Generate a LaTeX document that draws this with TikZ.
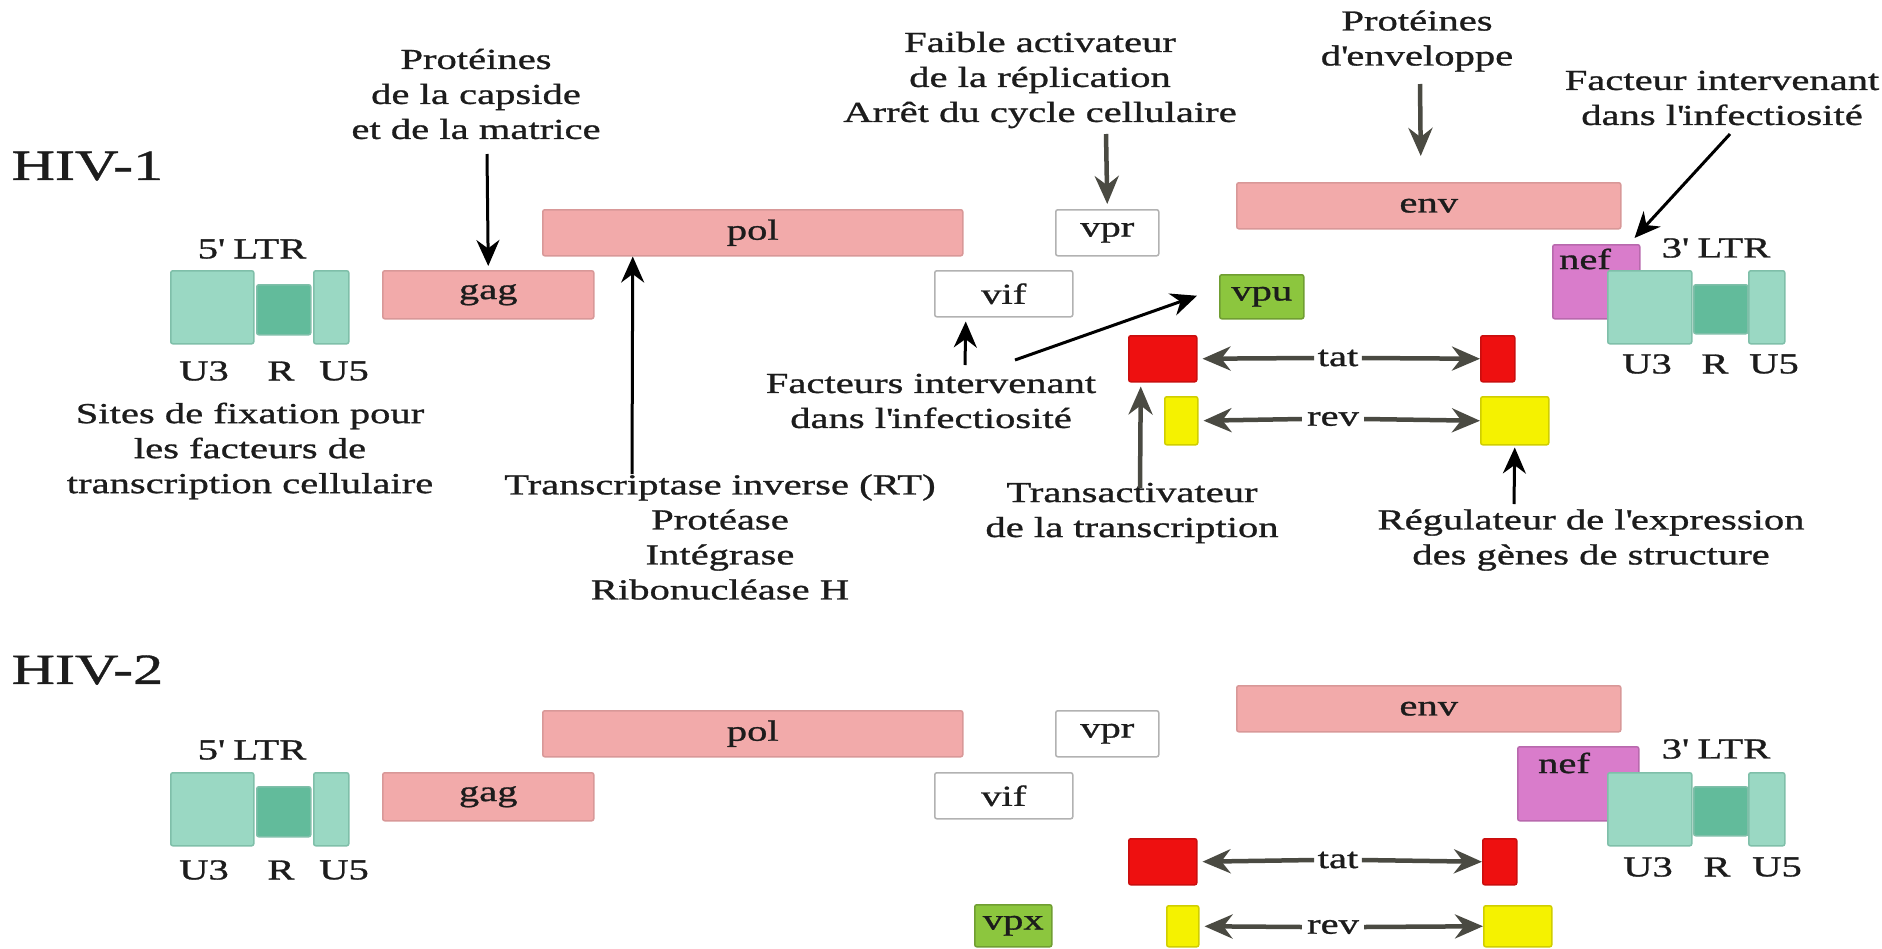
\documentclass[tikz,border=0pt]{standalone}
\usepackage{fontspec}
\setmainfont{Liberation Serif}[FakeStretch=1.4,FakeBold=1]
\usepackage{tikz}
\usetikzlibrary{calc, arrows.meta}
\usetikzlibrary{positioning}
\newcommand{\apo}{\textquotesingle}

\definecolor{rose}{HTML}{F2AAAA}
\definecolor{roseb}{HTML}{D89898}
\definecolor{ltrc}{HTML}{9AD8C3}
\definecolor{ltrd}{HTML}{62BB9B}
\definecolor{ltrb}{HTML}{7FBFA9}
\definecolor{nefc}{HTML}{D97CCB}
\definecolor{vpuc}{HTML}{8CC63E}
\definecolor{tatc}{HTML}{EE1010}
\definecolor{revc}{HTML}{F5F200}
\definecolor{flc}{HTML}{4A4A42}
\definecolor{txt}{HTML}{1C1C1C}

\tikzset{
  sz/.style 2 args={minimum width=#1,minimum height=#2},
  box/.style={draw,line width=1.5pt,rounded corners=2pt,inner sep=0pt,anchor=north west},
  gen/.style={box,fill=rose,draw=roseb},
  ltr/.style={box,fill=ltrc,draw=ltrb},
  ltrr/.style={box,fill=ltrd,draw=ltrb},
  blanc/.style={box,fill=white,draw=gray!60},
  fl/.style={-{Stealth[length=26pt,width=23pt]},line width=3pt,draw=black},
  flg/.style={-{Stealth[length=28pt,width=24pt]},line width=4.5pt,draw=flc},
  titre/.style={font=\fontsize{43}{48}\selectfont,anchor=west}
}

\begin{document}
\begin{tikzpicture}[x=1pt,y=-1pt,
  every node/.style={text=txt,font=\fontsize{29}{35}\selectfont}]
\useasboundingbox (0,0) rectangle (1882,948);

%%% HIV-1
\node[titre] (hiv1) at (8,166) {HIV-1};
\node[ltr,sz={83pt}{73pt}] (u3a) at (170,270) {}; %左LTR
\node[ltrr,sz={54pt}{50pt}] (ra) at (256,284) {};
\node[ltr,sz={35pt}{73pt}] (u5a) at (313,270) {};
\node (ltra) at (252,249) {5\apo\ LTR};
\node (u3la) at (204,371) {U3};
\node (rla) at (281,371) {R};
\node (u5la) at (344,371) {U5};
\node[gen,sz={211pt}{48pt}] (gag1) at (382,270) {gag};
\node[gen,sz={420pt}{46pt}] (pol1) at (542,209) {pol};
\node[blanc,sz={103pt}{46pt}] (vpr1) at (1055,209) {vpr};
\node[blanc,sz={138pt}{46pt}] (vif1) at (934,270) {vif};
\node[gen,sz={384pt}{46pt}] (env1) at (1236,182) {env};
\node[box,fill=vpuc,draw=vpuc!80!black,sz={84pt}{44pt}] (vpu1) at (1219,274) {vpu};
\node[box,fill=tatc,draw=tatc!85!black,sz={68pt}{46pt}] (tatl1) at (1128,335) {}; %tat
\node[box,fill=tatc,draw=tatc!85!black,sz={34pt}{46pt}] (tatr1) at (1480,335) {};
\node[box,fill=revc,draw=revc!85!black,sz={33pt}{48pt}] (revl1) at (1164,396) {}; %rev
\node[box,fill=revc,draw=revc!85!black,sz={68pt}{48pt}] (revr1) at (1480,396) {};
\node[box,fill=nefc,draw=nefc!85!black,sz={87pt}{74pt}] (nef1) at (1552,244) {};
\node (nefl1) at (1585,259) {nef};
\node[ltr,sz={84pt}{73pt}] (u3b) at (1607,270) {}; %右LTR
\node[ltrr,sz={54pt}{49pt}] (rb) at (1693,284) {};
\node[ltr,sz={36pt}{73pt}] (u5b) at (1748,270) {};
\node (ltrb) at (1716,248) {3\apo\ LTR};
\node (u3lb) at (1647,364) {U3};
\node (rlb) at (1715,364) {R};
\node (u5lb) at (1774,364) {U5};
\node (tat1) at (1338,358) {tat};
\node[inner sep=5pt] (rev1) at (1333,419) {rev};

% textes
\node[align=center] (cap) at (476,94) {Protéines\\de la capside\\et de la matrice};
\node[align=center] (fa) at (1040,80) {Faible activateur\\de la réplication\\Arrêt du cycle cellulaire};
\node[align=center] (pe) at (1417,41) {Protéines\\d\apo enveloppe};
\node[align=center] (fn) at (1722,98) {Facteur intervenant\\dans l\apo infectiosité};
\node[align=center] (site) at (250,451) {Sites de fixation pour\\les facteurs de\\transcription cellulaire};
\node[align=center] (rt) at (720,537) {Transcriptase inverse (RT)\\Protéase\\Intégrase\\Ribonucléase H};
\node[align=center] (fi) at (931,401) {Facteurs intervenant\\dans l\apo infectiosité};
\node[align=center] (ta) at (1132,513) {Transactivateur\\de la transcription};
\node[align=center] (rg) at (1591,540) {Régulateur de l\apo expression\\des gènes de structure};

% fleches
\draw[fl] ($(cap.center)+(11,60)$) -- ([yshift=4pt]gag1.north);
\draw[fl] ($(rt.center)+(-88,-63)$) -- ($(pol1.south)+(-120,0)$);
\draw[flg] ($(fa.center)+(66,54)$) -- ([yshift=5pt]vpr1.north);
\draw[flg] ($(pe.center)+(3,43)$) -- ($(env1.north)+(-8,-26)$);
\draw[fl] ($(fn.center)+(8,36)$) -- ($(nef1.north east)+(-6,-6)$);
\draw[fl] ($(fi.center)+(34,-36)$) -- ($(vif1.south)+(-38,4)$);
\draw[fl] ($(fi.center)+(84,-41)$) -- ($(vpu1.west)+(-22,-1)$);
\draw[flg] ($(ta.center)+(8,-25)$) -- ($(tatl1.south)+(-22,4)$);
\draw[fl] ($(rg.center)+(-77,-36)$) -- ($(revr1.south)+(0,2)$);
\draw[flg,shorten >=5pt] (tat1.west) -- (tatl1.east);
\draw[flg] (tat1.east) -- (tatr1.west);
\draw[flg,shorten >=5pt] (rev1.west) -- (revl1.east);
\draw[flg] (rev1.east) -- (revr1.west);

%%% HIV-2
\node[titre] (hiv2) at (8,670) {HIV-2};
\node[ltr,sz={83pt}{73pt}] (u3c) at (170,772) {}; %左LTR
\node[ltrr,sz={54pt}{50pt}] (rc) at (256,786) {};
\node[ltr,sz={35pt}{73pt}] (u5c) at (313,772) {};
\node (ltrc) at (252,750) {5\apo\ LTR};
\node (u3lc) at (204,870) {U3};
\node (rlc) at (281,870) {R};
\node (u5lc) at (344,870) {U5};
\node[gen,sz={211pt}{48pt}] (gag2) at (382,772) {gag};
\node[gen,sz={420pt}{46pt}] (pol2) at (542,710) {pol};
\node[blanc,sz={103pt}{46pt}] (vpr2) at (1055,710) {vpr};
\node[blanc,sz={138pt}{46pt}] (vif2) at (934,772) {vif};
\node[gen,sz={384pt}{46pt}] (env2) at (1236,685) {env};
\node[box,fill=vpuc,draw=vpuc!80!black,sz={77pt}{42pt}] (vpx2) at (974,904) {vpx};
\node[box,fill=tatc,draw=tatc!85!black,sz={68pt}{46pt}] (tatl2) at (1128,838) {}; %tat
\node[box,fill=tatc,draw=tatc!85!black,sz={34pt}{46pt}] (tatr2) at (1482,838) {};
\node[box,fill=revc,draw=revc!85!black,sz={32pt}{41pt}] (revl2) at (1166,905) {}; %rev
\node[box,fill=revc,draw=revc!85!black,sz={68pt}{41pt}] (revr2) at (1483,905) {};
\node[box,fill=nefc,draw=nefc!85!black,sz={121pt}{74pt}] (nef2) at (1517,746) {};
\node (nefl2) at (1564,763) {nef};
\node[ltr,sz={84pt}{73pt}] (u3d) at (1607,772) {}; %右LTR
\node[ltrr,sz={54pt}{49pt}] (rd) at (1693,786) {};
\node[ltr,sz={36pt}{73pt}] (u5d) at (1748,772) {};
\node (ltrd) at (1716,749) {3\apo\ LTR};
\node (u3ld) at (1648,867) {U3};
\node (rld) at (1717,867) {R};
\node (u5ld) at (1777,867) {U5};
\node (tat2) at (1338,860) {tat};
\node[inner sep=5pt] (rev2) at (1333,927) {rev};
\draw[flg,shorten >=5pt] (tat2.west) -- (tatl2.east);
\draw[flg] (tat2.east) -- (tatr2.west);
\draw[flg,shorten >=5pt] (rev2.west) -- (revl2.east);
\draw[flg] (rev2.east) -- (revr2.west);
\end{tikzpicture}
\end{document}
